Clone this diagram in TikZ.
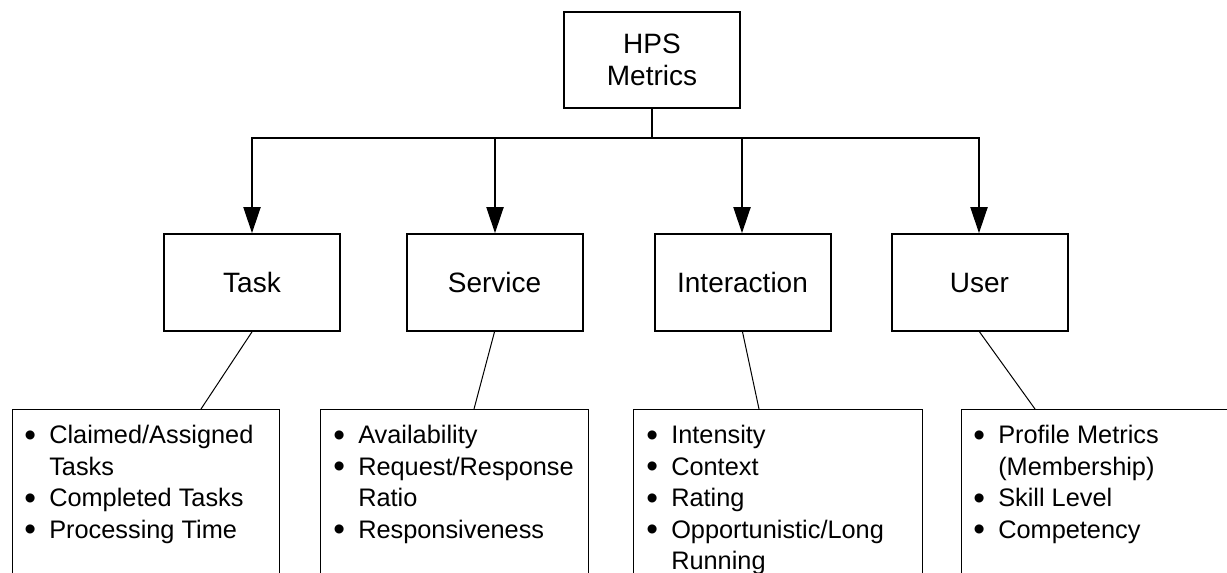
\documentclass[tikz,border=0pt]{standalone}
\usepackage{fontspec}
\setmainfont{Liberation Sans}
\usetikzlibrary{arrows.meta}

% bullet and hanging indent for the metric lists
\newcommand\lbul{\makebox[18.75pt][l]{\raisebox{-2pt}{\fontsize{25}{0}\selectfont\textbullet}}}
\newcommand\lind{\hspace*{18.75pt}}
\newcommand\lfirst{\rule{0pt}{15pt}}

\begin{document}
\begin{tikzpicture}[x=0.75pt,y=-0.75pt,
  box/.style={draw, line width=1.5pt, rectangle, minimum width=132pt,
    minimum height=72.5pt, inner sep=0pt, align=center,
    font=\fontsize{21}{24}\selectfont},
  listbox/.style={draw, line width=0.75pt, rectangle, anchor=north west,
    minimum height=160pt, inner sep=0pt},
  listtext/.style={anchor=north west, inner sep=0pt, align=left,
    font=\fontsize{19}{23.6}\selectfont},
  trunk/.style={line width=1.5pt},
  arrowline/.style={line width=1.5pt,
    -{Triangle[length=19.5pt,width=12.75pt]}},
  link/.style={line width=0.75pt}]

\useasboundingbox (0,0) rectangle (1227,572);
\clip (0,0) rectangle (1227,572);

% root and category boxes
\node[box, minimum height=72pt] (hps) at (652,60) {HPS\\Metrics};
\node[box] (task) at (252,282.5) {Task};
\node[box] (service) at (494.5,282.5) {Service};
\node[box] (interaction) at (742.5,282.5) {Interaction};
\node[box] (user) at (979.5,282.5) {User};

% tree connectors
\coordinate (jn) at (652,138);
\draw[trunk] (hps.south) -- (jn);
\draw[arrowline] (jn) -| (task.north);
\draw[arrowline] (jn) -| ([xshift=0.375pt]service.north);
\draw[arrowline] (jn) -| ([xshift=-0.375pt]interaction.north);
\draw[arrowline] (jn) -| ([xshift=-0.375pt]user.north);

% metric list boxes
\node[listbox, minimum width=200.25pt] (tl) at (12,409) {};
\node[listbox, minimum width=201pt] (sl) at (320,409) {};
\node[listbox, minimum width=216.75pt] (il) at (633,409) {};
\node[listbox, minimum width=254.25pt] (ul) at (961,409) {};

% links from each category to its list
\coordinate (tlc) at (201,409);
\coordinate (slc) at (474,409);
\coordinate (ilc) at (759,409);
\coordinate (ulc) at (1035,409);
\draw[link] (task.south) -- (tlc);
\draw[link] (service.south) -- (slc);
\draw[link] (interaction.south) -- (ilc);
\draw[link] (user.south) -- (ulc);

% list contents
\node[listtext] (tt) at (24,423.5) {\lfirst\lbul Claimed/Assigned\\
  \lind Tasks\\
  \lbul Completed Tasks\\
  \lbul Processing Time};
\node[listtext] (st) at (333,423.5) {\lfirst\lbul Availability\\
  \lbul Request/Response\\
  \lind Ratio\\
  \lbul Responsiveness};
\node[listtext] (it) at (646,423.5) {\lfirst\lbul Intensity\\
  \lbul Context\\
  \lbul Rating\\
  \lbul Opportunistic/Long\\
  \lind Running};
\node[listtext] (ut) at (973,423.5) {\lfirst\lbul Profile Metrics\\
  \lind (Membership)\\
  \lbul Skill Level\\
  \lbul Competency};

\end{tikzpicture}
\end{document}
